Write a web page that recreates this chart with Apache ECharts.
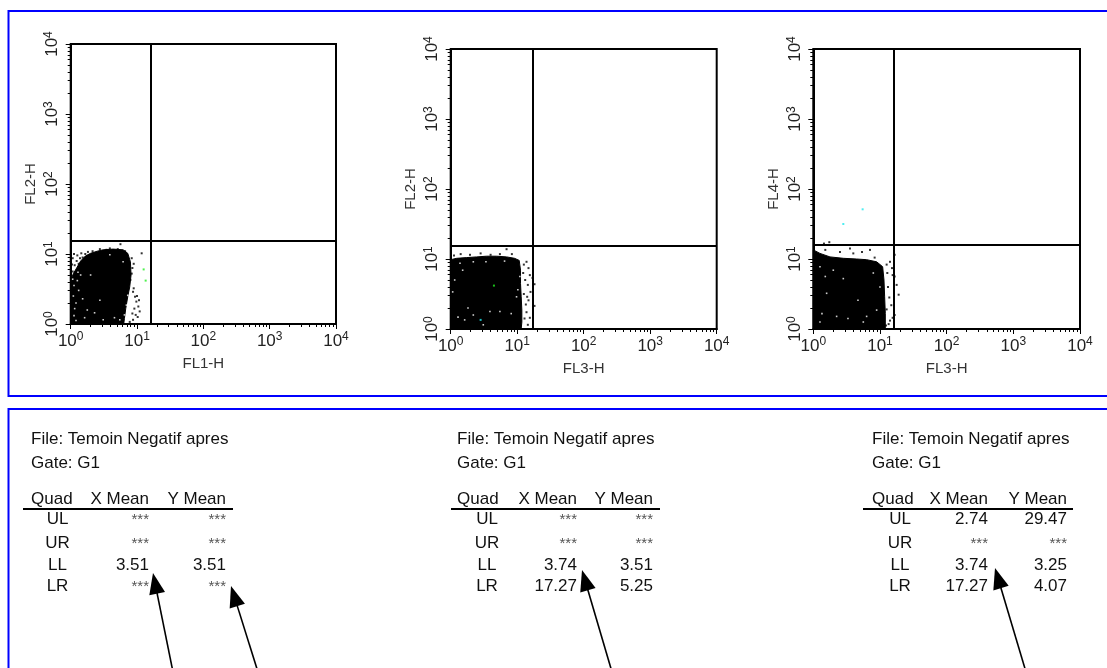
<!DOCTYPE html>
<html><head><meta charset="utf-8">
<script src="https://cdn.jsdelivr.net/npm/echarts@6/dist/echarts.min.js"></script>
<style>html,body{margin:0;padding:0;background:#fff}#c{width:1107px;height:668px}</style>
</head><body><div id="c"></div>
<script>
// ---------- DATA (values in log10 decades of fluorescence, 0..4 => 10^0..10^4) ----------
const decadeTicks = [0, 1, 2, 3, 4];
const xNames = ['FL1-H', 'FL3-H', 'FL3-H'];
const yNames = ['FL2-H', 'FL2-H', 'FL4-H'];
const quadX = [1.21, 1.23, 1.21];
const quadY = [1.19, 1.19, 1.20];

const cloud1 = [[0,0],[0,0.62],[0.04,0.72],[0.09,0.80],[0.15,0.90],[0.22,0.97],[0.30,1.01],[0.40,1.04],[0.49,1.06],[0.64,1.07],[0.79,1.06],[0.86,1.01],[0.90,0.89],[0.91,0.70],[0.89,0.53],[0.86,0.39],[0.83,0.22],[0.81,0.08],[0.80,0]];
const cloud2 = [[0,0],[0,0.99],[0.09,1.01],[0.24,1.02],[0.39,1.03],[0.54,1.04],[0.69,1.04],[0.84,1.03],[0.96,1.01],[1.03,0.98],[1.05,0.84],[1.05,0.65],[1.06,0.46],[1.07,0.27],[1.07,0.10],[1.06,0]];
const cloud3 = [[0,0],[0,1.13],[0.10,1.08],[0.25,1.03],[0.45,1.01],[0.65,1.00],[0.80,0.99],[0.95,0.96],[1.04,0.89],[1.06,0.70],[1.07,0.46],[1.08,0.22],[1.08,0]];

const dots1 = [[0.44,1.07],[0.59,1.08],[0.75,1.14],[0.54,1.06],[0.71,1.07],[0.33,1.04],[0.82,1.04],
 [0.92,0.94],[0.93,0.80],[0.90,0.63],[0.94,0.46],[0.97,0.39],[0.99,0.32],[1.02,0.25],[1.04,0.18],[0.98,0.13],[0.94,0.06],[0.89,0.03],[1.03,0.34],[1.07,1.01],[0.95,0.51],[1.00,0.40],[0.92,0.72],[0.95,0.86],[0.96,0.22],[1.01,0.10],[0.93,0.15],
 [0.03,0.94],[0.06,0.84],[0.03,0.75],[0.02,0.85],[0.09,0.90],[0.12,0.86],[0.18,0.95],[0.22,1.00],[0.14,0.94],[0.10,0.98],[0.05,1.00],[0.16,1.01],[0.26,1.03]];
const white1 = [[0.30,0.70],[0.49,0.06],[0.36,0.16],[0.66,0.09],[0.74,0.06],[0.81,0.13],[0.84,0.27],[0.86,0.41],[0.79,0.89],[0.44,0.34],[0.21,0.09],[0.59,0.99],[0.25,0.20],[0.05,0.12],[0.08,0.05],
 [0.05,0.55],[0.10,0.62],[0.04,0.40],[0.12,0.48],[0.08,0.30],[0.15,0.70],[0.06,0.22],[0.18,0.36],[0.03,0.64],[0.11,0.74]];
const green1 = [[1.10,0.78],[1.13,0.62]];
const cyan1 = [];

const dots2 = [[0.84,1.14],[0.15,1.07],[0.45,1.08],[0.74,1.07],[0.92,1.07],[0.29,1.06],[0.60,1.06],[0.05,1.05],
 [1.14,0.96],[1.17,0.87],[1.19,0.77],[1.16,0.63],[1.20,0.53],[1.17,0.41],[1.14,0.24],[1.19,0.16],[1.16,0.06],[1.26,0.64],[1.26,0.33],[1.23,0.73],[1.10,0.92],[1.12,0.70],[1.10,0.50],[1.13,0.35],[1.11,0.15],[1.15,0.46],[1.09,0.80]];
const white2 = [[0.14,0.94],[0.18,0.84],[0.34,0.96],[0.06,0.70],[0.03,0.53],[0.59,0.25],[0.74,0.25],[0.11,0.17],[0.21,0.13],[0.34,0.20],[0.49,0.06],[0.91,0.22],[0.99,0.46],[1.04,0.75],[1.01,0.56],[0.26,0.30],[0.53,0.96],[0.81,0.97]];
const green2 = [[0.65,0.62]];
const cyan2 = [[0.45,0.13]];

const dots3 = [[0.55,1.15],[0.85,1.13],[0.73,1.10],[0.40,1.10],[0.18,1.13],[0.16,1.22],[0.24,1.24],[0.60,1.08],[0.92,1.02],
 [1.15,0.96],[1.18,0.87],[1.19,0.77],[1.25,0.63],[1.28,0.49],[1.17,0.34],[1.19,0.16],[1.13,0.07],[1.22,1.06],[1.22,0.75],[1.22,0.20],[1.10,0.92],[1.12,0.60],[1.14,0.45],[1.10,0.28],[1.15,0.12],[1.11,0.80],[1.09,0.05]];
const white3 = [[0.10,0.89],[0.18,0.75],[0.45,0.72],[0.20,0.51],[0.13,0.22],[0.35,0.18],[0.52,0.15],[0.67,0.41],[0.80,0.18],[0.75,0.10],[0.95,0.27],[1.00,0.60],[0.90,0.80],[0.30,0.84],[0.10,0.10]];
const green3 = [];
const cyan3 = [[0.74,1.71],[0.45,1.50]];

// ---------- stats tables ----------
const fileLabel = 'File: Temoin Negatif apres';
const gateLabel = 'Gate: G1';
const headQuad = 'Quad', headX = 'X Mean', headY = 'Y Mean';
const quadNames = ['UL', 'UR', 'LL', 'LR'];
const xMean1 = ['***', '***', '3.51', '***'];
const yMean1 = ['***', '***', '3.51', '***'];
const xMean2 = ['***', '***', '3.74', '17.27'];
const yMean2 = ['***', '***', '3.51', '5.25'];
const xMean3 = ['2.74', '***', '3.74', '17.27'];
const yMean3 = ['29.47', '***', '3.25', '4.07'];

// ---------- layout ----------
const FONT = '"Liberation Sans", Arial, sans-serif';
const grids = [
  {left: 70.7, top: 44, width: 265.3, height: 280},
  {left: 450.7, top: 49, width: 266, height: 280},
  {left: 813.3, top: 49, width: 266.7, height: 280}
];
const minorTicks = [];
for (let d = 0; d < 4; d++) for (let k = 2; k <= 9; k++) minorTicks.push(d + Math.log10(k));

const labelRich = {
  b: {fontSize: 17, color: '#222', fontFamily: FONT},
  s: {fontSize: 12, color: '#222', fontFamily: FONT, padding: [0, 0, 8, 0]}
};
const fmt = v => '{b|10}{s|' + v + '}';

const xAxes = [], yAxes = [], series = [];
const clouds = [cloud1, cloud2, cloud3];
const dots = [dots1, dots2, dots3];
const whites = [white1, white2, white3];
const greens = [green1, green2, green3];
const cyans = [cyan1, cyan2, cyan3];

for (let i = 0; i < 3; i++) {
  xAxes.push({
    gridIndex: i, type: 'value', min: 0, max: 4, interval: 1, position: 'bottom',
    name: xNames[i], nameLocation: 'middle', nameGap: 32,
    nameTextStyle: {fontSize: 15, color: '#333', fontFamily: FONT},
    axisLine: {show: true, lineStyle: {color: '#000', width: 2}},
    axisTick: {show: true, length: 5, lineStyle: {color: '#000', width: 1}},
    axisLabel: {formatter: fmt, rich: labelRich, margin: 7},
    splitLine: {show: false}
  });
  xAxes.push({
    gridIndex: i, type: 'value', min: 0, max: 4, position: 'bottom',
    axisLine: {show: false},
    axisTick: {show: true, length: 3, customValues: minorTicks, lineStyle: {color: '#000', width: 1}},
    axisLabel: {show: false}, splitLine: {show: false}
  });
  yAxes.push({
    gridIndex: i, type: 'value', min: 0, max: 4, interval: 1, position: 'left',
    name: yNames[i], nameLocation: 'middle', nameGap: 32,
    nameTextStyle: {fontSize: 15, color: '#333', fontFamily: FONT},
    axisLine: {show: true, lineStyle: {color: '#000', width: 2}},
    axisTick: {show: true, length: 5, lineStyle: {color: '#000', width: 1}},
    axisLabel: {formatter: fmt, rich: labelRich, rotate: 90, margin: 8},
    splitLine: {show: false}
  });
  yAxes.push({
    gridIndex: i, type: 'value', min: 0, max: 4, position: 'left',
    axisLine: {show: false},
    axisTick: {show: true, length: 3, customValues: minorTicks, lineStyle: {color: '#000', width: 1}},
    axisLabel: {show: false}, splitLine: {show: false}
  });
  const poly = clouds[i];
  series.push({
    type: 'custom', xAxisIndex: 2 * i, yAxisIndex: 2 * i, z: 2, silent: true,
    data: [[0, 0]],
    renderItem: (params, api) => ({
      type: 'polygon',
      shape: {points: poly.map(p => api.coord(p))},
      style: {fill: '#000', stroke: '#000', lineWidth: 1}
    })
  });
  series.push({
    type: 'scatter', xAxisIndex: 2 * i, yAxisIndex: 2 * i, z: 3, silent: true,
    symbol: 'rect', symbolSize: 2, itemStyle: {color: '#000'}, data: dots[i],
    markLine: {
      silent: true, symbol: 'none', label: {show: false}, animation: false,
      lineStyle: {color: '#000', width: 2, type: 'solid'},
      data: [{xAxis: quadX[i]}, {yAxis: quadY[i]}]
    }
  });
  series.push({
    type: 'scatter', xAxisIndex: 2 * i, yAxisIndex: 2 * i, z: 4, silent: true,
    symbol: 'rect', symbolSize: 1.6, itemStyle: {color: '#fff'}, data: whites[i]
  });
  series.push({
    type: 'scatter', xAxisIndex: 2 * i, yAxisIndex: 2 * i, z: 5, silent: true,
    symbol: 'rect', symbolSize: 2, itemStyle: {color: '#22ee22'}, data: greens[i]
  });
  series.push({
    type: 'scatter', xAxisIndex: 2 * i, yAxisIndex: 2 * i, z: 5, silent: true,
    symbol: 'rect', symbolSize: 2, itemStyle: {color: '#22e8ee'}, data: cyans[i]
  });
}

// ---------- graphic: frames, tables, arrows ----------
const graphic = [];
graphic.push({type: 'rect', shape: {x: 8.5, y: 11, width: 1200, height: 385}, style: {fill: 'none', stroke: '#0000ff', lineWidth: 2}, z: 10});
graphic.push({type: 'rect', shape: {x: 8.5, y: 409, width: 1200, height: 400}, style: {fill: 'none', stroke: '#0000ff', lineWidth: 2}, z: 10});

const tables = [
  {x0: 31, ul: [23, 233], qc: 57.5, xr: 149, yr: 226, xm: xMean1, ym: yMean1},
  {x0: 457, ul: [451, 660], qc: 487, xr: 577, yr: 653, xm: xMean2, ym: yMean2},
  {x0: 872, ul: [863, 1073], qc: 900, xr: 988, yr: 1067, xm: xMean3, ym: yMean3}
];
const rowY = [519, 543, 565, 586];
const tfont = '17px ' + FONT;
function txt(s, x, y, align, font, color) {
  return {type: 'text', x: x, y: y, z: 10, style: {text: s, font: font || tfont, fill: color || '#111', align: align, verticalAlign: 'middle'}};
}
tables.forEach(t => {
  graphic.push(txt(fileLabel, t.x0, 439, 'left'));
  graphic.push(txt(gateLabel, t.x0, 463, 'left'));
  graphic.push(txt(headQuad, t.x0, 499, 'left'));
  graphic.push(txt(headX, t.xr, 499, 'right'));
  graphic.push(txt(headY, t.yr, 499, 'right'));
  graphic.push({type: 'line', z: 10, shape: {x1: t.ul[0], y1: 509, x2: t.ul[1], y2: 509}, style: {stroke: '#000', lineWidth: 2}});
  quadNames.forEach((q, r) => {
    graphic.push(txt(q, t.qc, rowY[r], 'center'));
    const starFont = '15px ' + FONT;
    [[t.xm[r], t.xr], [t.ym[r], t.yr]].forEach(([s, xr]) => {
      const star = s === '***';
      graphic.push(txt(s, xr, rowY[r] + (star ? 1 : 0), 'right', star ? starFont : tfont, star ? '#555' : '#111'));
    });
  });
});

const arrows = [[173, 672, 153, 573], [258, 672, 231, 586], [612, 672, 582, 570], [1026, 672, 995, 568]];
arrows.forEach(a => {
  const [tx, ty, hx, hy] = a;
  const dx = hx - tx, dy = hy - ty, L = Math.hypot(dx, dy), ux = dx / L, uy = dy / L;
  const hl = 21, hw = 8;
  const bx = hx - ux * hl, by = hy - uy * hl, px = -uy, py = ux;
  graphic.push({type: 'line', z: 10, shape: {x1: tx, y1: ty, x2: bx + ux * 2, y2: by + uy * 2}, style: {stroke: '#000', lineWidth: 1.6}});
  graphic.push({type: 'polygon', z: 10, shape: {points: [[hx, hy], [bx + px * hw, by + py * hw], [bx - px * hw, by - py * hw]]}, style: {fill: '#000'}});
});

const chart = echarts.init(document.getElementById('c'), null, {renderer: 'canvas'});
chart.setOption({
  animation: false,
  backgroundColor: '#fff',
  grid: grids.map(g => Object.assign({show: true, borderColor: '#000', borderWidth: 2, backgroundColor: 'transparent', containLabel: false}, g)),
  xAxis: xAxes,
  yAxis: yAxes,
  series: series,
  graphic: graphic
});
</script></body></html>
